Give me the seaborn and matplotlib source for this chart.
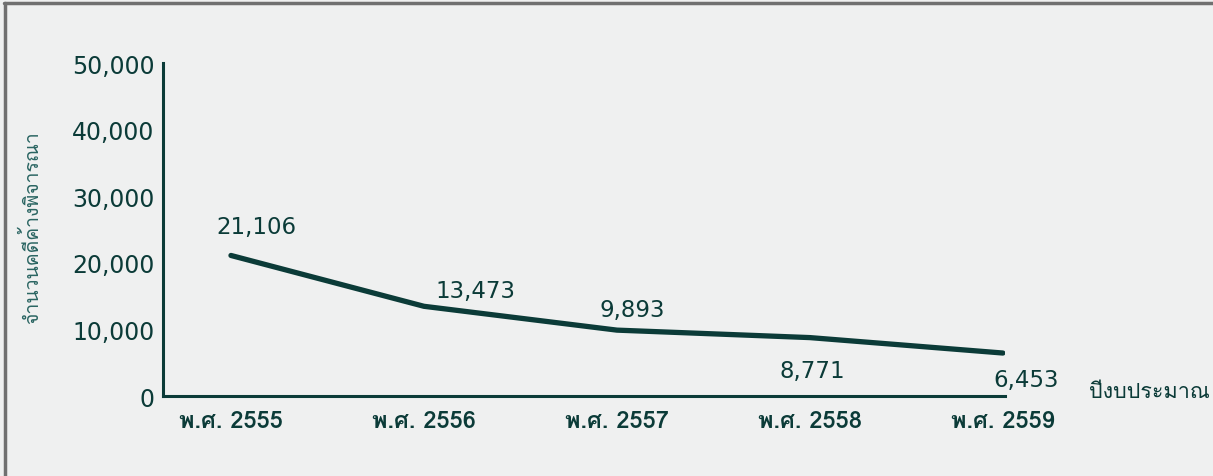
import seaborn as sns
import numpy as np
import pandas as pd
import matplotlib.pyplot as plt
from matplotlib import font_manager
from matplotlib.ft2font import FT2Font
from matplotlib.lines import Line2D

# data
years = ['พ.ศ. 2555', 'พ.ศ. 2556', 'พ.ศ. 2557', 'พ.ศ. 2558', 'พ.ศ. 2559']
pending_cases = [21106, 13473, 9893, 8771, 6453]
y_ticks = [0, 10000, 20000, 30000, 40000, 50000]

df = pd.DataFrame({'year': years, 'cases': pending_cases})


def find_thai_font():
    # look for any installed font that has Thai glyphs
    for f in font_manager.fontManager.ttflist:
        try:
            cmap = FT2Font(f.fname).get_charmap()
        except Exception:
            continue
        if ord('ก') in cmap and ord('ณ') in cmap:
            return f.name
    return None


sns.set_theme(style='white')
thai = find_thai_font()
fams = ['DejaVu Sans']
if thai:
    fams = [thai, 'DejaVu Sans']
plt.rcParams['font.family'] = fams

dark = '#0b3b38'
bg = '#eff0f0'

fig = plt.figure(figsize=(12.13, 4.77), dpi=100, facecolor=bg)
ax = fig.add_axes([0.1344, 0.1677, 0.694, 0.698])
ax.set_facecolor('none')

sns.lineplot(data=df, x='year', y='cases', ax=ax, color=dark, linewidth=3.8,
             sort=False)

ax.set_xlim(-0.352, 4.01)
ax.set_ylim(0, 50000)
ax.set_yticks(y_ticks)
ax.set_yticklabels([f'{v:,}' for v in y_ticks], fontsize=17, color=dark,
                   family=['DejaVu Sans'])
ax.set_xticks(range(len(years)))
ax.set_xticklabels(years, fontsize=17, color=dark, fontweight='bold')
ax.tick_params(axis='both', length=0, pad=6)
ax.tick_params(axis='x', pad=9)

for s in ['top', 'right']:
    ax.spines[s].set_visible(False)
for s in ['left', 'bottom']:
    ax.spines[s].set_color(dark)
    ax.spines[s].set_linewidth(2.2)

ax.set_xlabel('')
ax.set_ylabel('จำนวนคดีค้างพิจารณา', fontsize=14, color='#2a6562')
ax.yaxis.set_label_coords(-0.144, 0.51)

# value labels (offsets in points, as in the reference)
offsets = [(18, 20.5), (37, 11.7), (11, 14.5), (1.5, -24), (17, -19.4)]
for i, (v, off) in enumerate(zip(pending_cases, offsets)):
    ax.annotate(f'{v:,}', (i, v), xytext=off, textcoords='offset points',
                ha='center', va='center', fontsize=16.5, color=dark,
                family=['DejaVu Sans'])

fig.text(0.898, 0.178, 'ปีงบประมาณ', fontsize=15.5, color=dark, va='center',
         ha='left')

# frame along top and left edge
fig.add_artist(Line2D([0.003, 1], [0.992, 0.992], transform=fig.transFigure,
                      color='#707070', linewidth=2.5))
fig.add_artist(Line2D([0.004, 0.004], [0, 0.992], transform=fig.transFigure,
                      color='#707070', linewidth=2.5))

fig.savefig('out.png', dpi=100, facecolor=bg)
